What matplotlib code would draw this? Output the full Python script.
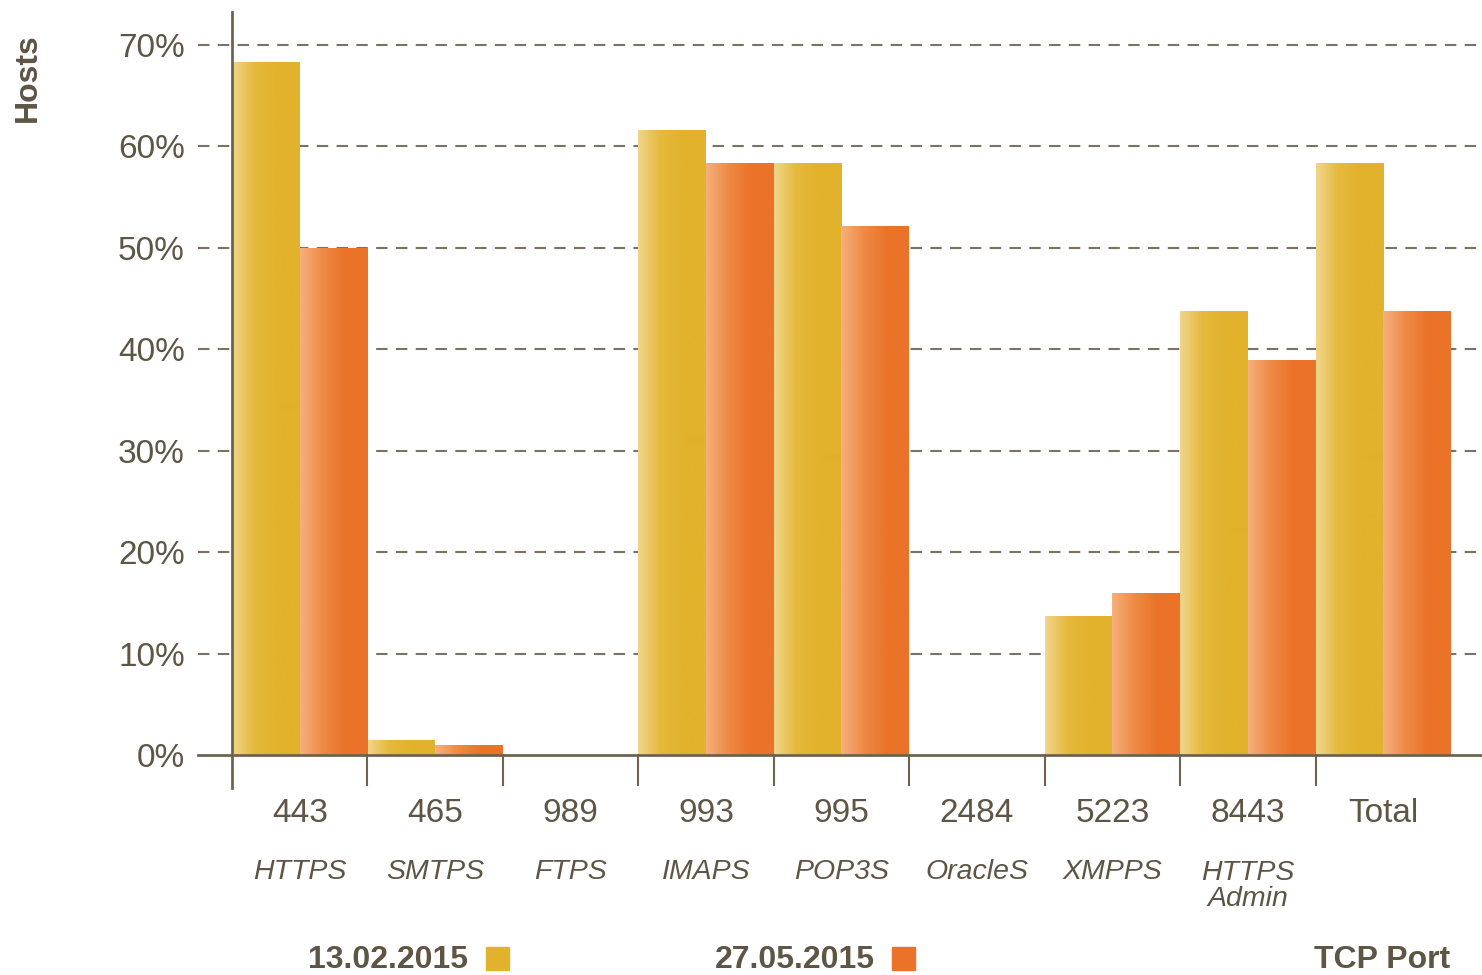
import numpy as np
import matplotlib.pyplot as plt
from matplotlib.colors import LinearSegmentedColormap
import matplotlib.transforms as mtransforms

plt.rcParams['font.family'] = ['Liberation Sans', 'DejaVu Sans']

# Dados
portas = ["443", "465", "989", "993", "995", "2484", "5223", "8443", "Total"]
servicos = ["HTTPS", "SMTPS", "FTPS", "IMAPS", "POP3S", "OracleS", "XMPPS", "HTTPS\nAdmin", ""]
val_fev = [68.3, 1.5, 0.0, 61.6, 58.4, 0.0, 13.7, 43.8, 58.4]
val_mai = [50.0, 1.0, 0.0, 58.4, 52.2, 0.0, 16.0, 38.9, 43.8]
ticks_y = [0, 10, 20, 30, 40, 50, 60, 70]
legenda = ["13.02.2015", "27.05.2015"]

cor_texto = '#5E5545'
cor_eixo = '#6E6350'
amarelo = '#E2B22C'
laranja = '#EA7329'

grad_amarelo = LinearSegmentedColormap.from_list('ga', ['#F1D58C', '#E5B93C', amarelo, amarelo])
grad_laranja = LinearSegmentedColormap.from_list('gl', ['#F5B07C', '#EE8A45', laranja, laranja])

fig = plt.figure(figsize=(14.82, 9.75), dpi=100)
ax = fig.add_axes([232/1482, 187/975, 1250/1482, 776/975])

x = np.arange(len(portas))
ax.set_xlim(-0.5, 8.729)
ax.set_ylim(-3.25, 73.25)

# Linhas de grade tracejadas (saem para a esquerda do eixo)
trans = mtransforms.blended_transform_factory(ax.transAxes, ax.transData)
for v in ticks_y[1:]:
    ax.plot([-0.0272, 1.0], [v, v], transform=trans, color='#7C7262',
            linestyle=(0, (5.5, 4)), linewidth=1.5, clip_on=False, zorder=1)

# Barras com gradiente
gradiente = np.linspace(0, 1, 256).reshape(1, -1)
for serie, cmap, desloc in [(val_fev, grad_amarelo, -0.25), (val_mai, grad_laranja, 0.25)]:
    barras = ax.bar(x + desloc, serie, width=0.5, color=cmap(1.0), zorder=2, linewidth=0)
    for b, h in zip(barras, serie):
        if h <= 0:
            continue
        x0 = b.get_x()
        img = ax.imshow(gradiente, extent=[x0, x0 + b.get_width(), 0, h],
                        cmap=cmap, aspect='auto', zorder=3, interpolation='bilinear')
        img.set_clip_path(b)

ax.set_xlim(-0.5, 8.729)
ax.set_ylim(-3.25, 73.25)

# Linha do zero
ax.plot([-0.0272, 1.0], [0, 0], transform=trans, color=cor_eixo,
        linewidth=2, clip_on=False, zorder=4)

# Marcas entre os grupos
for i in range(1, len(portas)):
    ax.plot([i - 0.5, i - 0.5], [0, -2.95], color=cor_eixo, linewidth=1.5,
            clip_on=False, zorder=4)

for s in ['top', 'right', 'bottom']:
    ax.spines[s].set_visible(False)
ax.spines['left'].set_color(cor_eixo)
ax.spines['left'].set_linewidth(2)
ax.spines['left'].set_zorder(5)

ax.set_xticks([])
ax.set_yticks(ticks_y)
ax.set_yticklabels([f"{v}%" for v in ticks_y], fontsize=24, color=cor_texto)
ax.tick_params(axis='y', length=0, pad=34)

# Rótulos do eixo x
tx = mtransforms.blended_transform_factory(ax.transData, fig.transFigure)
for i, (p, s) in enumerate(zip(portas, servicos)):
    ax.text(i, 1 - 813/975, p, transform=tx, ha='center', va='center',
            fontsize=24, color=cor_texto)
    if s:
        y = 872 if "\n" not in s else 886
        ax.text(i, 1 - y/975, s, transform=tx, ha='center', va='center',
                fontsize=20.5, style='italic', color=cor_texto, linespacing=0.95)

# Título do eixo y
fig.text(28/1482, 1 - 78/975, "Hosts", rotation=90, ha='center', va='center',
         fontsize=23, fontweight='bold', color=cor_texto)

# Legenda manual
for texto, cor, x_fim, x_quad in [(legenda[0], amarelo, 468, 486), (legenda[1], laranja, 875, 892)]:
    fig.text(x_fim/1482, 1 - 960/975, texto, ha='right', va='center',
             fontsize=23, fontweight='bold', color=cor_texto)
    fig.patches.append(plt.Rectangle((x_quad/1482, 1 - 970/975), 23/1482, 23/975,
                                     transform=fig.transFigure, color=cor, figure=fig))

fig.text(1450/1482, 1 - 960/975, "TCP Port", ha='right', va='center',
         fontsize=23, fontweight='bold', color=cor_texto)

plt.savefig("out.png", dpi=100)
